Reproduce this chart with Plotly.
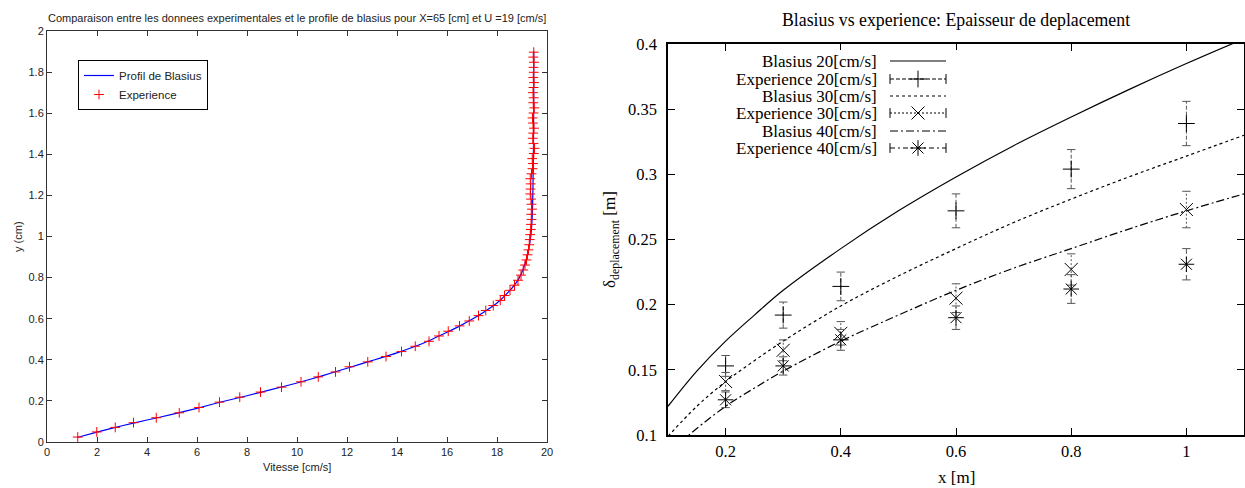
import plotly.graph_objects as go

# ---------------- Left chart data (velocity profile) ----------------
exp_y = [0.024, 0.049, 0.071, 0.094, 0.118, 0.142, 0.168, 0.194, 0.218, 0.243,
         0.267, 0.293, 0.317, 0.341, 0.366, 0.390, 0.416, 0.440, 0.466, 0.490,
         0.516, 0.539, 0.565, 0.589, 0.615, 0.640, 0.664, 0.689,
         0.713, 0.738, 0.763, 0.787, 0.812, 0.837, 0.861, 0.886, 0.911, 0.935,
         0.960, 0.985, 1.009, 1.034, 1.059, 1.083, 1.108, 1.133, 1.157, 1.182,
         1.207, 1.231, 1.256, 1.281, 1.305, 1.330, 1.355, 1.379, 1.404, 1.429,
         1.453, 1.478, 1.503, 1.527, 1.552, 1.577, 1.601, 1.626, 1.651, 1.675,
         1.700, 1.725, 1.749, 1.774, 1.799, 1.823, 1.848, 1.873, 1.897]
exp_u = [1.23, 1.99, 2.73, 3.46, 4.37, 5.29, 6.08, 6.90, 7.71, 8.54,
         9.38, 10.16, 10.85, 11.54, 12.10, 12.83, 13.56, 14.18, 14.73, 15.28,
         15.68, 16.05, 16.50, 16.89, 17.26, 17.55, 17.85, 18.13,
         18.30, 18.52, 18.70, 18.84, 18.96, 19.05, 19.12, 19.18, 19.22, 19.26,
         19.29, 19.31, 19.33, 19.35, 19.36, 19.38, 19.37, 19.40, 19.38, 19.36,
         19.33, 19.34, 19.35, 19.33, 19.38, 19.42, 19.44, 19.41, 19.47, 19.50,
         19.46, 19.43, 19.45, 19.48, 19.44, 19.42, 19.46, 19.49, 19.45, 19.47,
         19.44, 19.46, 19.48, 19.45, 19.47, 19.46, 19.48, 19.45, 19.47]
blas_u = [1.20, 2.0, 3.0, 4.0, 5.0, 6.0, 7.0, 8.0, 9.0, 10.0, 11.0, 12.0, 13.0,
          14.0, 15.0, 16.0, 16.5, 17.0, 17.5, 18.0, 18.5, 18.85, 19.1, 19.25,
          19.35, 19.41, 19.44, 19.46, 19.47, 19.47]
blas_y = [0.022, 0.048, 0.079, 0.107, 0.134, 0.164, 0.196, 0.225, 0.256, 0.287,
          0.322, 0.359, 0.396, 0.434, 0.478, 0.534, 0.564, 0.597, 0.634, 0.676,
          0.735, 0.790, 0.860, 0.930, 1.000, 1.100, 1.250, 1.450, 1.700, 1.900]

# ---------------- Right chart data (displacement thickness) ----------------
x_theory = [0.1, 0.15, 0.2, 0.25, 0.3, 0.4, 0.5, 0.6, 0.7, 0.8, 0.9, 1.0, 1.1]
blas20 = [0.122, 0.149, 0.172, 0.192, 0.211, 0.243, 0.272, 0.298, 0.322, 0.344, 0.365, 0.385, 0.404]
blas30 = [0.099, 0.122, 0.141, 0.157, 0.172, 0.199, 0.222, 0.243, 0.263, 0.281, 0.298, 0.314, 0.330]
blas40 = [0.086, 0.105, 0.122, 0.136, 0.149, 0.172, 0.192, 0.211, 0.228, 0.243, 0.258, 0.272, 0.285]

x_exp = [0.2, 0.3, 0.4, 0.6, 0.8, 1.0]
exp20 = [0.153, 0.192, 0.214, 0.272, 0.304, 0.339]
err20 = [0.008, 0.010, 0.011, 0.013, 0.015, 0.017]
exp30 = [0.141, 0.165, 0.178, 0.205, 0.227, 0.273]
err30 = [0.007, 0.008, 0.009, 0.011, 0.012, 0.014]
exp40 = [0.127, 0.153, 0.173, 0.190, 0.212, 0.231]
err40 = [0.006, 0.007, 0.008, 0.009, 0.011, 0.012]

legend_labels = ["Blasius 20[cm/s]", "Experience 20[cm/s]", "Blasius 30[cm/s]",
                 "Experience 30[cm/s]", "Blasius 40[cm/s]", "Experience 40[cm/s]"]

SANS = "Liberation Sans, Arial, sans-serif"
SERIF = "Liberation Serif, Times New Roman, serif"

fig = go.Figure()

# ---- left chart traces ----
fig.add_trace(go.Scatter(x=blas_u, y=blas_y, mode="lines", name="Profil de Blasius",
                         line=dict(color="#0000ff", width=1.2, shape="spline", smoothing=0.5),
                         xaxis="x", yaxis="y", legend="legend"))
fig.add_trace(go.Scatter(x=exp_u, y=exp_y, mode="markers", name="Experience",
                         marker=dict(symbol="cross-thin", size=7, color="#ff0000",
                                     line=dict(color="#ff0000", width=1)),
                         xaxis="x", yaxis="y", legend="legend"))

# ---- right chart traces ----
def err_segments(xs, ys, es):
    bx, by = [], []
    for xv, yv, ev in zip(xs, ys, es):
        bx += [xv, xv, None]
        by += [yv - ev, yv + ev, None]
    return bx, by

def caps(xs, ys, es):
    cx, cy = [], []
    for xv, yv, ev in zip(xs, ys, es):
        cx += [xv, xv]
        cy += [yv - ev, yv + ev]
    return cx, cy

ERRC = "#555555"
theory = [(blas20, "solid"), (blas30, "3px,3px"), (blas40, "8px,3px,2px,3px")]
exps = [(exp20, err20, "4px,2px", "cross-thin", 12),
        (exp30, err30, "2px,2px", "x-thin", 13),
        (exp40, err40, "5px,3px,2px,3px", "asterisk", 13)]

for (vals, dash) in theory:
    fig.add_trace(go.Scatter(x=x_theory, y=vals, mode="lines", showlegend=False,
                             line=dict(color="black", width=1.2, dash=dash, shape="spline"),
                             xaxis="x2", yaxis="y2"))
for (vals, errs, dash, sym, sz) in exps:
    bx, by = err_segments(x_exp, vals, errs)
    fig.add_trace(go.Scatter(x=bx, y=by, mode="lines", showlegend=False,
                             line=dict(color=ERRC, width=1, dash=dash),
                             xaxis="x2", yaxis="y2"))
    cx, cy = caps(x_exp, vals, errs)
    fig.add_trace(go.Scatter(x=cx, y=cy, mode="markers", showlegend=False,
                             marker=dict(symbol="line-ew", size=6, color=ERRC,
                                         line=dict(color=ERRC, width=1)),
                             xaxis="x2", yaxis="y2"))
    fig.add_trace(go.Scatter(x=x_exp, y=vals, mode="markers", showlegend=False,
                             marker=dict(symbol=sym, size=sz, color="black",
                                         line=dict(color="black", width=1)),
                             xaxis="x2", yaxis="y2"))

# ---- custom gnuplot-style legend on an invisible helper axis (pixel units) ----
rows = [61, 79, 96, 113, 131, 148]
sx0, sx1, sxm, tx = 890, 946, 918, 879
leg_styles = [("line", "solid", None, 0), ("exp", "4px,2px", "cross-thin", 12),
              ("line", "3px,3px", None, 0), ("exp", "2px,2px", "x-thin", 13),
              ("line", "8px,3px,2px,3px", None, 0), ("exp", "5px,3px,2px,3px", "asterisk", 13)]
annotations = []
for ry, lab, (kind, dash, sym, sz) in zip(rows, legend_labels, leg_styles):
    fig.add_trace(go.Scatter(x=[sx0, sx1], y=[ry, ry], mode="lines", showlegend=False,
                             line=dict(color="black", width=1.2 if kind == "line" else 1, dash=dash),
                             xaxis="x3", yaxis="y3", hoverinfo="skip"))
    if kind == "exp":
        fig.add_trace(go.Scatter(x=[sx0, sx1], y=[ry, ry], mode="markers", showlegend=False,
                                 marker=dict(symbol="line-ns", size=7, color="black",
                                             line=dict(color="black", width=1)),
                                 xaxis="x3", yaxis="y3", hoverinfo="skip"))
        fig.add_trace(go.Scatter(x=[sxm], y=[ry], mode="markers", showlegend=False,
                                 marker=dict(symbol=sym, size=sz, color="black",
                                             line=dict(color="black", width=1)),
                                 xaxis="x3", yaxis="y3", hoverinfo="skip"))
    annotations.append(dict(x=tx, y=ry, xref="x3", yref="y3", text=lab, showarrow=False,
                            xanchor="right", yanchor="middle",
                            font=dict(family=SERIF, size=17, color="black")))

# ---- titles / axis labels ----
annotations += [
    dict(x=297 / 1245, y=1 - 18 / 488, xref="paper", yref="paper", showarrow=False,
         text="Comparaison entre les donnees experimentales et le profile de blasius pour X=65 [cm] et U =19 [cm/s]",
         font=dict(family=SANS, size=11, color="#222222"), xanchor="center", yanchor="middle"),
    dict(x=297 / 1245, y=1 - 467 / 488, xref="paper", yref="paper", showarrow=False,
         text="Vitesse [cm/s]", font=dict(family=SANS, size=11, color="#222222"),
         xanchor="center", yanchor="middle"),
    dict(x=18 / 1245, y=1 - 237 / 488, xref="paper", yref="paper", showarrow=False,
         text="y (cm)", textangle=-90, font=dict(family=SANS, size=11, color="#222222"),
         xanchor="center", yanchor="middle"),
    dict(x=956 / 1245, y=1 - 20 / 488, xref="paper", yref="paper", showarrow=False,
         text="Blasius vs experience: Epaisseur de deplacement",
         font=dict(family=SERIF, size=17.8, color="black"), xanchor="center", yanchor="middle"),
    dict(x=956 / 1245, y=1 - 477 / 488, xref="paper", yref="paper", showarrow=False,
         text="x [m]", font=dict(family=SERIF, size=17, color="black"),
         xanchor="center", yanchor="middle"),
    dict(x=611 / 1245, y=1 - 240 / 488, xref="paper", yref="paper", showarrow=False,
         text="δ<sub>deplacement</sub> [m]", textangle=-90,
         font=dict(family=SERIF, size=17, color="black"), xanchor="center", yanchor="middle"),
]

left_axis = dict(showline=True, linecolor="#333333", linewidth=1, mirror="ticks",
                 ticks="inside", ticklen=5, tickcolor="#333333", showgrid=False, zeroline=False,
                 automargin=False, tickfont=dict(family=SANS, size=11, color="#222222"))
right_axis = dict(showline=True, linecolor="black", linewidth=1.5, mirror="ticks",
                  ticks="inside", ticklen=7, tickcolor="black", showgrid=False, zeroline=False,
                  automargin=False, tickfont=dict(family=SERIF, size=16.5, color="black"))

fig.update_layout(
    width=1245, height=488, margin=dict(l=0, r=0, t=0, b=0, autoexpand=False),
    paper_bgcolor="white", plot_bgcolor="white",
    xaxis=dict(domain=[47 / 1245, 547 / 1245], range=[0, 20], tickvals=list(range(0, 21, 2)),
               anchor="y", **left_axis),
    yaxis=dict(domain=[1 - 442 / 488, 1 - 31 / 488], range=[0, 2],
               tickvals=[0, 0.2, 0.4, 0.6, 0.8, 1, 1.2, 1.4, 1.6, 1.8, 2], anchor="x", **left_axis),
    xaxis2=dict(domain=[668 / 1245, 1244 / 1245], range=[0.1, 1.1],
                tickvals=[0.2, 0.4, 0.6, 0.8, 1], anchor="y2", **right_axis),
    yaxis2=dict(domain=[1 - 435 / 488, 1 - 44 / 488], range=[0.1, 0.4],
                tickvals=[0.1, 0.15, 0.2, 0.25, 0.3, 0.35, 0.4], anchor="x2",
                ticklabelstandoff=6, **right_axis),
    xaxis3=dict(domain=[740 / 1245, 960 / 1245], range=[740, 960], visible=False,
                anchor="y3", fixedrange=True),
    yaxis3=dict(domain=[1 - 160 / 488, 1 - 50 / 488], range=[160, 50], visible=False,
                anchor="x3", fixedrange=True),
    legend=dict(x=78 / 1245, y=1 - 60 / 488, xanchor="left", yanchor="top",
                bordercolor="black", borderwidth=1, bgcolor="white",
                font=dict(family=SANS, size=11.5, color="#222222"),
                itemwidth=30, tracegroupgap=0),
    annotations=annotations,
    showlegend=True,
)

fig.write_html("out.html", config={"displayModeBar": False},
               post_script="document.body.style.margin='0px';document.body.style.overflow='hidden';")
